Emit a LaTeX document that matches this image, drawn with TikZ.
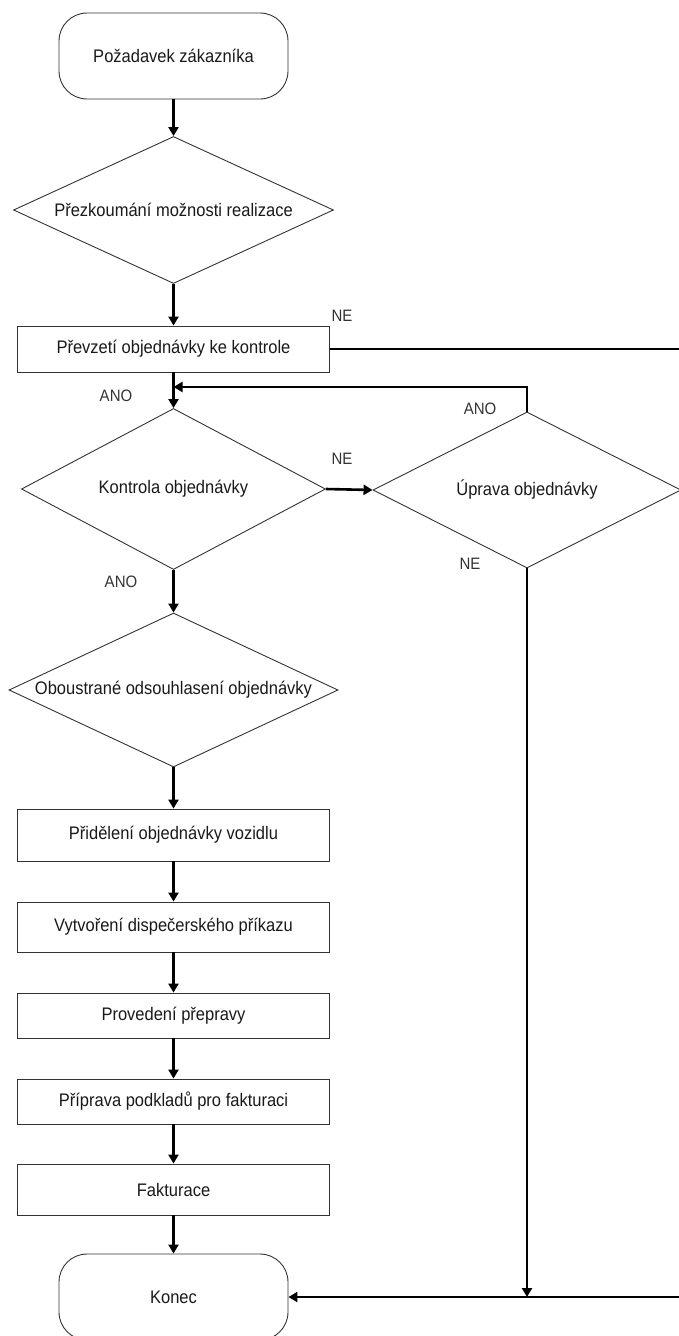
\documentclass[tikz,border=0pt]{standalone}
\usepackage{fontspec}
\setmainfont{Liberation Sans}
\usepackage{graphicx}
\usetikzlibrary{shapes.geometric,arrows.meta}
% slightly tall lettering
\newcommand{\tallt}[1]{\scalebox{1}[1.1]{#1}}
\begin{document}
\begin{tikzpicture}[x=1pt,y=-1pt,
  every node/.style={text=black!90, font=\fontsize{16.5}{19}\selectfont, inner sep=0pt},
  termbox/.style={draw=black!80, line width=0.9pt, rectangle, rounded corners=28pt,
                  minimum width=229pt, minimum height=86pt},
  procbox/.style={draw=black!80, line width=0.9pt, rectangle, minimum width=312pt},
  decision/.style={draw=black!80, line width=0.9pt, diamond, aspect=2.1},
  flow/.style={draw=black, line width=2.6pt, -{Triangle[length=9pt,width=10pt]}},
  branch/.style={font=\fontsize{15}{18}\selectfont, text=black!80}
]
\useasboundingbox (0,0) rectangle (679,1336);
\clip (0,0) rectangle (679,1336);

% main column
\node[termbox] (start) at (173.5,56) {\tallt{Požadavek zákazníka}};
\node[decision, minimum width=320pt, minimum height=147pt] (review) at (173.5,210)
  {\tallt{Přezkoumání možnosti realizace}};
\node[procbox, minimum height=46pt] (take) at (173.5,349) {\tallt{Převzetí objednávky ke kontrole}};
\node[decision, minimum width=304pt, minimum height=161pt] (check) at (173.5,489)
  {\tallt{Kontrola objednávky}};
\node[decision, minimum width=308pt, minimum height=156pt] (fix) at (527,490)
  {\tallt{Úprava objednávky}};
\node[decision, minimum width=329pt, minimum height=154pt] (agree) at (173.5,690)
  {\tallt{Oboustrané odsouhlasení objednávky}};
\node[procbox, minimum height=52pt] (assign) at (173.5,835) {\tallt{Přidělení objednávky vozidlu}};
\node[procbox, minimum height=50pt] (order) at (173.5,927) {\tallt{Vytvoření dispečerského příkazu}};
\node[procbox, minimum height=45pt] (ship) at (173.5,1015.5) {\tallt{Provedení přepravy}};
\node[procbox, minimum height=45pt] (docs) at (173.5,1101.5) {\tallt{Příprava podkladů pro fakturaci}};
\node[procbox, minimum height=51pt] (bill) at (173.5,1189.5) {\tallt{Fakturace}};
\node[termbox] (stop) at (173.5,1297) {\tallt{Konec}};

% helper points for the side routes
\coordinate (loopin) at (173.5,387);
\coordinate (rtop) at (681,349);
\coordinate (rbot) at (681,1297);
\coordinate (nemerge) at (527,1297);

% connectors
\draw[flow] (start) -- (review);
\draw[flow] (review) -- (take);
\draw[flow] (take) -- (check);
\draw[flow] (check.east) -- (fix.west);
\draw[flow] (fix.north) |- (loopin);
\draw[flow] (check) -- (agree);
\draw[flow] (agree) -- (assign);
\draw[flow] (assign) -- (order);
\draw[flow] (order) -- (ship);
\draw[flow] (ship) -- (docs);
\draw[flow] (docs) -- (bill);
\draw[flow] (bill) -- (stop);
\draw[flow] (take.east) -- (rtop) -- (rbot) -- (stop.east);
\draw[flow] (fix.south) -- (nemerge);

% branch labels
\node[branch] (l1) at (342,316) {\tallt{NE}};
\node[branch] (l2) at (116,396) {\tallt{ANO}};
\node[branch] (l3) at (480,409) {\tallt{ANO}};
\node[branch] (l4) at (342,459) {\tallt{NE}};
\node[branch] (l5) at (470,564) {\tallt{NE}};
\node[branch] (l6) at (121,582) {\tallt{ANO}};
\end{tikzpicture}
\end{document}
